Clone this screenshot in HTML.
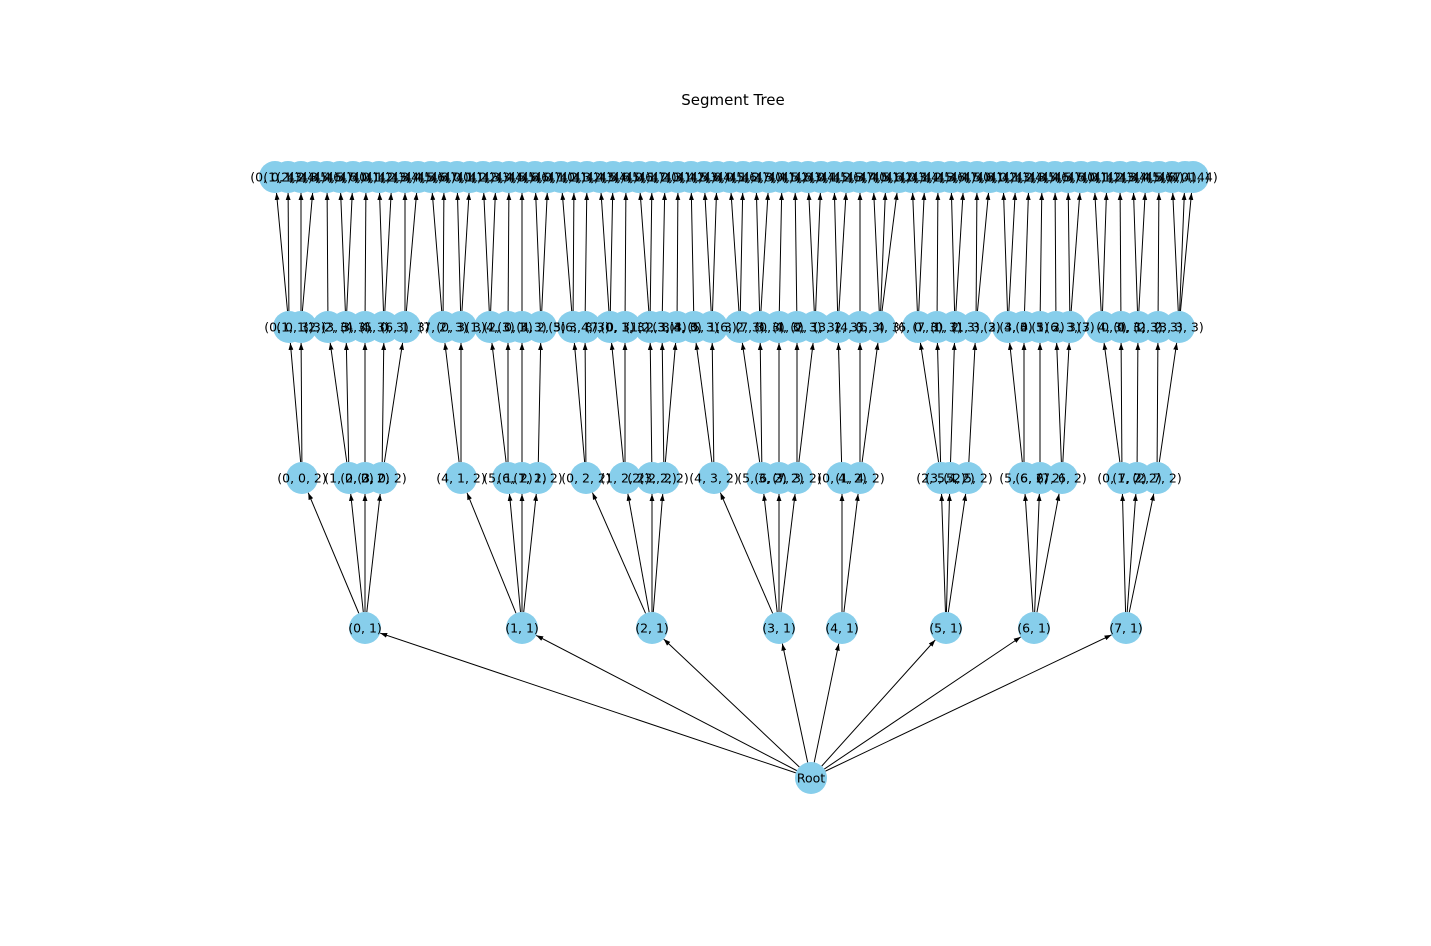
<!DOCTYPE html>
<html><head><meta charset="utf-8"><style>
body{margin:0;background:#fff;}
svg{display:block;font-family:"DejaVu Sans","Liberation Sans",sans-serif;}
</style></head><body>
<svg id="chart" width="1431" height="946" viewBox="0 0 1431 946" xmlns="http://www.w3.org/2000/svg">
<defs><marker id="arr" viewBox="0 0 10 10" refX="10" refY="5" markerWidth="7" markerHeight="7" orient="auto"><path d="M0,1.5 L10,5 L0,8.5 z" fill="#000"/></marker></defs>
<text x="733" y="105" font-size="15" text-anchor="middle">Segment Tree</text>
<g id="edges"></g><g id="nodes"></g><g id="labels"></g>
</svg>
<script>
const rootX = 811;
const levelY = [778, 628, 478, 327, 177];
const level1X = [365, 522, 652, 779, 842, 946, 1034, 1126];
const level1Labels = ["(0, 1)","(1, 1)","(2, 1)","(3, 1)","(4, 1)","(5, 1)","(6, 1)","(7, 1)"];
const level2X = [302,349,365,382, 461,508,522,538, 586,625,652,664, 714,762,779,797, 842,860, 941,950,968, 1024,1040,1062, 1122,1137,1157];
const level2Parent = [0,0,0,0, 1,1,1,1, 2,2,2,2, 3,3,3,3, 4,4, 5,5,5, 6,6,6, 7,7,7];
const level3X = [289,301,328,346,365,384,405,443,461,490,508,522,541,573,585,610,625,650,662,677,694,712,740,760,779,797,815,838,860,880,918,937,955,976,1008,1024,1040,1056,1070,1102,1121,1138,1158,1179];
const level4X = [275,288,301,314,327,340,353,366,379,392,405,418,431,444,457,470,483,496,509,522,535,548,561,574,587,600,613,626,639,652,665,678,691,704,717,730,743,756,769,782,795,808,821,834,847,860,873,886,899,912,925,938,951,964,977,990,1003,1016,1029,1042,1055,1068,1081,1094,1107,1120,1133,1146,1159,1172,1185,1193];
const R = 16;
const NS = "http://www.w3.org/2000/svg";
const E = document.getElementById('edges'), N = document.getElementById('nodes'), L = document.getElementById('labels');
function nearest(arr, x){let b=0;for(let i=1;i<arr.length;i++) if(Math.abs(arr[i]-x)<Math.abs(arr[b]-x)) b=i;return b;}
function edge(x1,y1,x2,y2){
  const dx=x2-x1, dy=y2-y1, d=Math.hypot(dx,dy);
  const l=document.createElementNS(NS,'line');
  l.setAttribute('x1',x1+dx/d*R);l.setAttribute('y1',y1+dy/d*R);
  l.setAttribute('x2',x2-dx/d*R);l.setAttribute('y2',y2-dy/d*R);
  l.setAttribute('stroke','#000');l.setAttribute('stroke-width','1');l.setAttribute('marker-end','url(#arr)');
  
  
  E.appendChild(l);
}
function node(x,y,label){
  const c=document.createElementNS(NS,'circle');
  c.setAttribute('cx',x);c.setAttribute('cy',y);c.setAttribute('r',R);c.setAttribute('fill','#87CEEB');
  
  
  N.appendChild(c);
  const t=document.createElementNS(NS,'text');
  t.setAttribute('x',x);t.setAttribute('y',y+4.5);t.setAttribute('text-anchor','middle');t.setAttribute('font-size','12.5');
  t.textContent=label;
  
  
  L.appendChild(t);
}
level1X.forEach(x=>edge(rootX,levelY[0],x,levelY[1]));
level2X.forEach((x,i)=>edge(level1X[level2Parent[i]],levelY[1],x,levelY[2]));
level3X.forEach(x=>edge(level2X[nearest(level2X,x)],levelY[2],x,levelY[3]));
level4X.forEach(x=>edge(level3X[nearest(level3X,x)],levelY[3],x,levelY[4]));
node(rootX,levelY[0],"Root");
level1X.forEach((x,i)=>node(x,levelY[1],level1Labels[i]));
level2X.forEach((x,i)=>node(x,levelY[2],"("+(i%8)+", "+level2Parent[i]+", 2)"));
level3X.forEach((x,i)=>node(x,levelY[3],"("+(i%8)+", "+(i%5)+", 3)"));
level4X.forEach((x,i)=>node(x,levelY[4],"("+(i%8)+", "+(i%7)+", 4)"));
</script>
</body></html>
